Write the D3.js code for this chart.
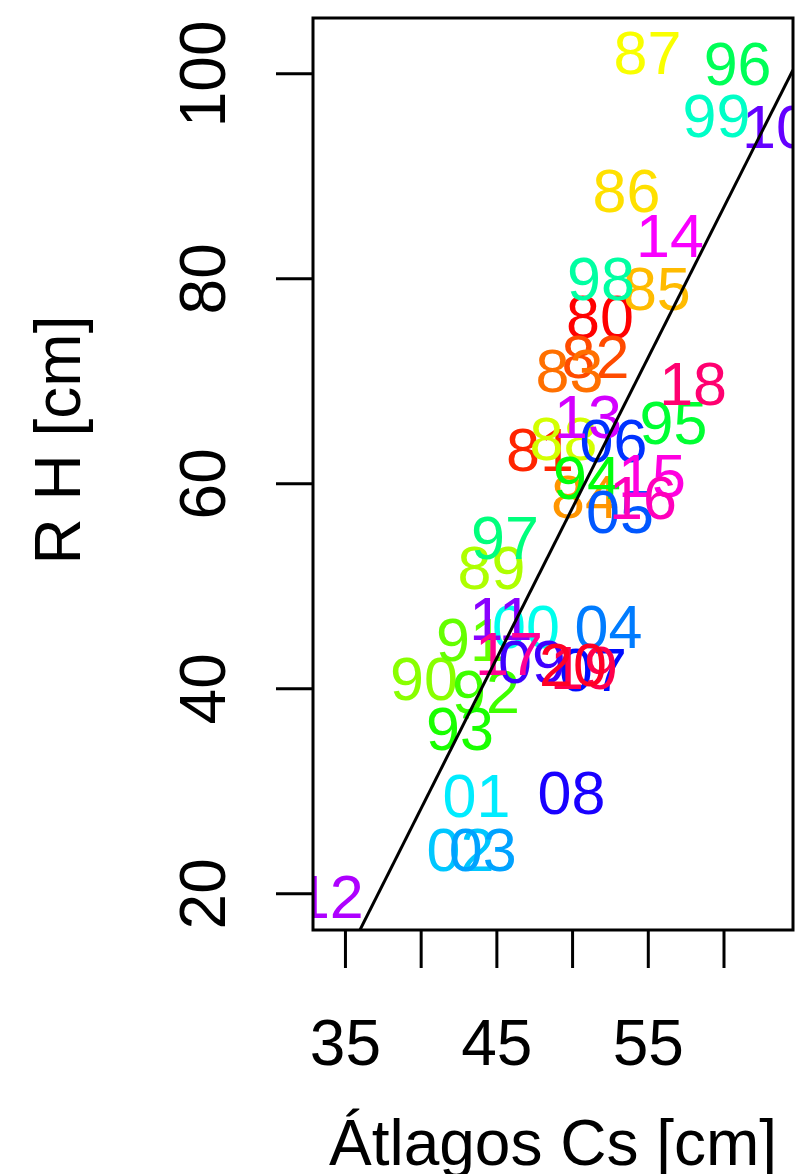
<!DOCTYPE html>
<html>
<head>
<meta charset="utf-8">
<script src="https://cdn.jsdelivr.net/npm/d3@7"></script>
<style>
  body { margin: 0; background: #fff; }
  svg { display: block; }
  text { font-family: "Liberation Sans", Arial, Helvetica, sans-serif; }
</style>
</head>
<body>
<div id="chart"></div>
<script>
// Year labels (1980 - 2020)
const labels = ['80','81','82','83','84','85','86','87','88','89',
                '90','91','92','93','94','95','96','97','98','99',
                '00','01','02','03','04','05','06','07','08','09',
                '10','11','12','13','14','15','16','17','18','19','20'];

// Átlagos Cs [cm]
const csValues = [51.84, 47.88, 51.55, 49.83, 50.85, 55.6, 53.59, 54.98, 49.43, 44.68,
                  40.22, 43.26, 44.31, 42.6, 50.98, 56.7, 60.93, 45.57, 51.91, 59.54,
                  46.95, 43.69, 42.63, 44.1, 52.4, 53.16, 52.73, 51.38, 49.96, 47.35,
                  63.47, 45.3, 34.0, 51.05, 56.47, 55.28, 54.68, 45.83, 57.99, 50.78, 50.06];

// R H [cm]
const rhValues = [76.3, 63.35, 72.4, 71.05, 58.8, 79.1, 88.6, 102.08, 64.4, 51.88,
                  41.0, 44.8, 39.74, 36.17, 60.66, 66.0, 100.96, 54.76, 80.03, 95.93,
                  46.1, 29.6, 24.28, 24.3, 46.03, 57.25, 64.27, 41.9, 29.9, 42.66,
                  94.9, 46.86, 19.75, 66.52, 84.27, 60.8, 58.66, 43.4, 69.74, 42.08, 42.37];

const xTicks = [35, 40, 45, 50, 55, 60];
const xTickLabels = ['35', '', '45', '', '55', ''];
const yTicks = [20, 40, 60, 80, 100];

// fitted line: intercept, slope
const fitLine = [-89.17, 2.934];

const xDomain = [32.89, 64.59];
const yDomain = [16.42, 105.4];

const W = 795, H = 1174;
const box = { left: 313, right: 793, top: 18, bottom: 930 };

const svg = d3.select('#chart').append('svg')
    .attr('width', W)
    .attr('height', H);

const x = d3.scaleLinear().domain(xDomain).range([box.left, box.right]);
const y = d3.scaleLinear().domain(yDomain).range([box.bottom, box.top]);

// rainbow colours like R's rainbow(n)
const n = labels.length;
const colour = i => d3.hsl(360 * i / n, 1, 0.5).formatHex();

svg.append('defs').append('clipPath')
    .attr('id', 'plotclip')
    .append('rect')
    .attr('x', box.left)
    .attr('y', box.top)
    .attr('width', box.right - box.left)
    .attr('height', box.bottom - box.top);

const plot = svg.append('g').attr('clip-path', 'url(#plotclip)');

// year labels
plot.selectAll('text.pt')
    .data(labels)
    .enter()
    .append('text')
    .attr('class', 'pt')
    .attr('x', (d, i) => x(csValues[i]))
    .attr('y', (d, i) => y(rhValues[i]))
    .attr('dy', '0.36em')
    .attr('text-anchor', 'middle')
    .style('font-size', '61px')
    .attr('fill', (d, i) => colour(i))
    .text(d => d);

// regression line
plot.append('line')
    .attr('x1', x(xDomain[0]))
    .attr('y1', y(fitLine[0] + fitLine[1] * xDomain[0]))
    .attr('x2', x(xDomain[1]))
    .attr('y2', y(fitLine[0] + fitLine[1] * xDomain[1]))
    .attr('stroke', '#000')
    .attr('stroke-width', 3);

// box
svg.append('rect')
    .attr('x', box.left)
    .attr('y', box.top)
    .attr('width', box.right - box.left)
    .attr('height', box.bottom - box.top)
    .attr('fill', 'none')
    .attr('stroke', '#000')
    .attr('stroke-width', 3);

// x axis
const xAxis = d3.axisBottom(x)
    .tickValues(xTicks)
    .tickSize(38)
    .tickPadding(58)
    .tickFormat((d, i) => xTickLabels[i]);

const gx = svg.append('g')
    .attr('transform', `translate(0, ${box.bottom})`)
    .call(xAxis);
gx.select('.domain').remove();
gx.selectAll('.tick line').attr('stroke', '#000').attr('stroke-width', 3);
gx.selectAll('.tick text')
    .attr('y', 135)
    .attr('dy', null)
    .style('font-size', '64px')
    .attr('fill', '#000');

// y axis
const yAxis = d3.axisLeft(y)
    .tickValues(yTicks)
    .tickSize(37)
    .tickFormat(d => d);

const gy = svg.append('g')
    .attr('transform', `translate(${box.left}, 0)`)
    .call(yAxis);
gy.select('.domain').remove();
gy.selectAll('.tick line').attr('stroke', '#000').attr('stroke-width', 3);
gy.selectAll('.tick text')
    .attr('x', null)
    .attr('dy', null)
    .attr('text-anchor', 'middle')
    .attr('transform', 'translate(-88, 0) rotate(-90)')
    .style('font-size', '64px')
    .attr('fill', '#000');

// axis titles
svg.append('text')
    .attr('x', (box.left + box.right) / 2)
    .attr('y', 1165)
    .attr('text-anchor', 'middle')
    .style('font-size', '64px')
    .text('Átlagos Cs [cm]');

svg.append('text')
    .attr('transform', 'translate(80, 440) rotate(-90)')
    .attr('text-anchor', 'middle')
    .style('font-size', '64px')
    .text('R H [cm]');
</script>
</body>
</html>
